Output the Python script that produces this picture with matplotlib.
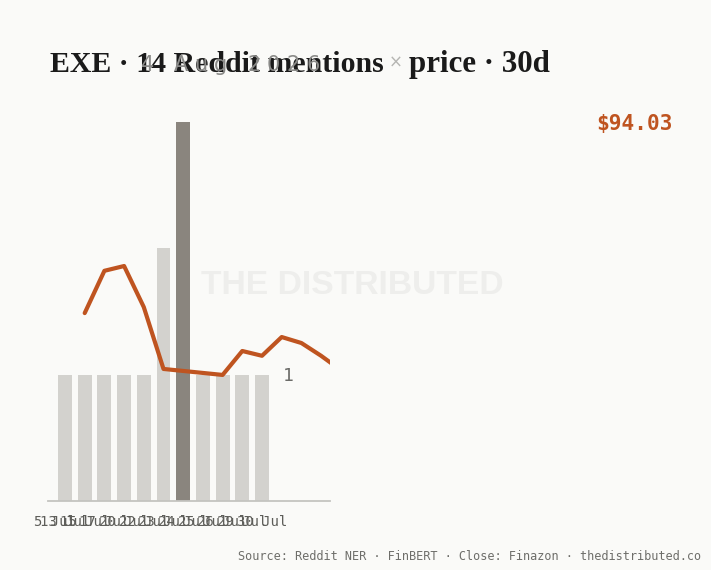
import matplotlib
matplotlib.use("Agg")
import matplotlib.pyplot as plt

# ---------------- data ----------------
ticker = "EXE"
mention_dates = ["13 Jul", "15 Jul", "17 Jul", "20 Jul", "22 Jul", "23 Jul",
                 "24 Jul", "25 Jul", "26 Jul", "29 Jul", "30 Jul"]
mentions = [1, 1, 1, 1, 1, 2, 3, 1, 1, 1, 1]
highlight_idx = 6
window_start_label = "5 Jul"
price_day = [1, 2, 3, 4, 5, 6, 7, 8, 9, 10, 11, 12, 13, 14]
prices = [92.71, 93.77, 93.89, 92.86, 91.31, 91.26, 91.21, 91.16,
          91.76, 91.64, 92.11, 91.96, 91.64, 91.28]
last_price = 94.03
asof = "4 Aug 2026"
source = "Source: Reddit NER · FinBERT · Close: Finazon · thedistributed.co"

# ---------------- style ----------------
BG = "#FAFAF8"
BAR = "#D3D2CE"
BAR_HI = "#8A857E"
LINE = "#BF5420"
INK = "#1A1A1A"
MONO = ["DejaVu Sans Mono"]

W, H = 711, 570
fig = plt.figure(figsize=(W / 100, H / 100), dpi=100, facecolor=BG)

def px(x, y):
    return x / W, 1 - y / H

left, right, top, bottom = 48, 330, 122, 501
ax = fig.add_axes([left / W, 1 - bottom / H, (right - left) / W, (bottom - top) / H])
ax.set_facecolor("none")

xs = list(range(len(mentions)))
colors = [BAR_HI if i == highlight_idx else BAR for i in xs]
ax.bar(xs, mentions, width=0.71, color=colors, zorder=2)
ax.set_ylim(0, max(mentions))
ax.set_xlim(-0.863, 13.452)

for s in ["top", "left", "right"]:
    ax.spines[s].set_visible(False)
ax.spines["bottom"].set_color("#C4C4C0")
ax.spines["bottom"].set_linewidth(1.3)
ax.set_yticks([])
ticks = [-0.5] + xs
ax.set_xticks(ticks)
ax.set_xticklabels([window_start_label] + mention_dates, family=MONO,
                   fontsize=10, color="#5E5E5A")
ax.tick_params(axis="x", length=0, pad=10)

ax.annotate(str(mentions[-1]), (xs[-1], mentions[-1]), xytext=(15, -1),
            textcoords="offset points", ha="left", va="center",
            family=MONO, fontsize=13, color="#6B6B68")

ax2 = ax.twinx()
ax2.set_facecolor("none")
ax2.plot(price_day, prices, color=LINE, lw=3.0, solid_capstyle="round",
         solid_joinstyle="round", zorder=3)
ax2.set_ylim(88, 97.5)
ax2.set_yticks([])
for s in ax2.spines.values():
    s.set_visible(False)

# watermark
fig.text(*px(352, 285), "THE DISTRIBUTED", ha="center", va="center",
         family=["Liberation Sans", "DejaVu Sans"], fontweight="bold",
         fontsize=24.2, color="#EEEEEC", zorder=0)

# last price label
fig.text(*px(596, 124), f"${last_price:.2f}", ha="left", va="center",
         family=MONO, fontweight="bold", fontsize=15.2, color=LINE)

# source
fig.text(*px(701, 556), source, ha="right", va="center", family=MONO,
         fontsize=8.6, color="#6E6E6A")

# ---------------- title ----------------
fig.canvas.draw()
r = fig.canvas.get_renderer()

def width_of(t):
    return t.get_window_extent(renderer=r).width

serif = ["Liberation Serif", "DejaVu Serif"]
base_y = 72
t1 = fig.text(*px(50, base_y), f"{ticker} · 14 Reddit mentions", ha="left",
              va="baseline", family=serif, fontweight="bold", fontsize=24,
              color=INK)
w1 = width_of(t1)
t1.set_fontsize(24 * 335 / w1)
x = 50 + width_of(t1) + 5
t2 = fig.text(*px(x, base_y - 4), "×", ha="left", va="baseline",
              family=["DejaVu Sans"], fontsize=12, color="#B5B5B2")
x = x + width_of(t2) + 6
t3 = fig.text(*px(x, base_y), "price · 30d", ha="left", va="baseline",
              family=serif, fontweight="bold", fontsize=24, color=INK)
w3 = width_of(t3)
t3.set_fontsize(24 * (550 - x) / w3)

# subtitle (tracked out)
x = 141
track = 6.5
for ch in asof:
    tc = fig.text(*px(x, 71), ch, ha="left", va="baseline", family=["DejaVu Sans"],
                  fontsize=15, color="#8A8A88")
    x += width_of(tc) + track

fig.savefig("out.png", dpi=100, facecolor=BG)
